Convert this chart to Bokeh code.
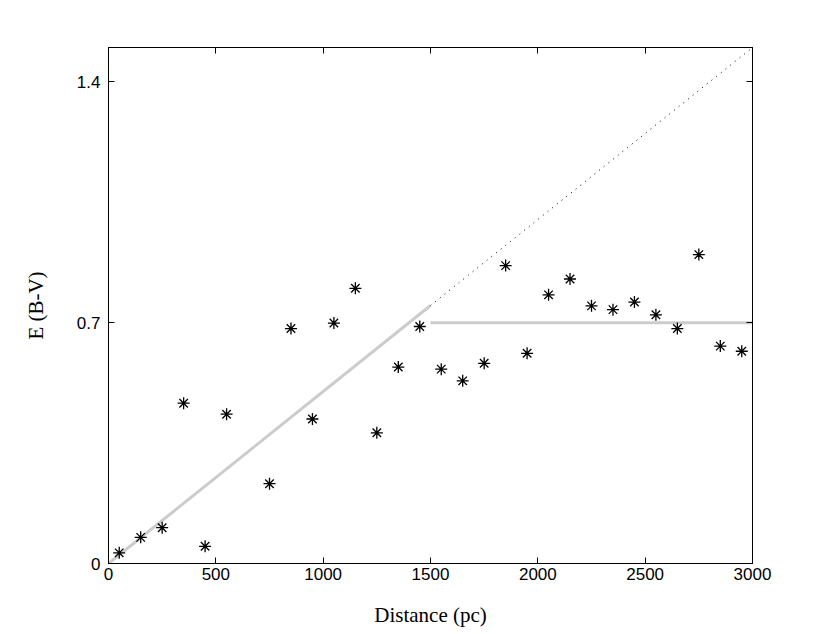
from bokeh.plotting import figure
from bokeh.models import Range1d, LinearAxis, FixedTicker
from bokeh.embed import file_html
from bokeh.resources import INLINE

distance = [50, 150, 250, 350, 450, 550, 650, 750, 850, 950, 1050, 1150, 1250, 1350, 1450,
            1550, 1650, 1750, 1850, 1950, 2050, 2150, 2250, 2350, 2450, 2550, 2650, 2750, 2850, 2950]
ebv = [0.031, 0.076, 0.104, 0.466, 0.050, 0.434, None, 0.232, 0.683, 0.420, 0.699, 0.800, 0.380, 0.571, 0.689,
       0.565, 0.531, 0.582, 0.866, 0.611, 0.781, 0.827, 0.749, 0.738, 0.760, 0.723, 0.683, 0.898, 0.632, 0.617]

fit_x = [0, 1500]
fit_y = [0.0, 0.75]
plateau_x = [1500, 3000]
plateau_y = [0.70, 0.70]
extrap_x = [1500, 3000]
extrap_y = [0.75, 1.5]

x_ticks = [0, 500, 1000, 1500, 2000, 2500, 3000]
y_ticks = [0, 0.7, 1.4]

pts = [(d, e) for d, e in zip(distance, ebv) if e is not None]
px = [a for a, b in pts]
py = [b for a, b in pts]

p = figure(width=814, height=634, output_backend="svg", toolbar_location=None,
           x_range=Range1d(0, 3000), y_range=Range1d(0, 1.5),
           min_border_left=108, min_border_right=62, min_border_top=47, min_border_bottom=71)

p.grid.visible = False
p.outline_line_color = "black"
p.outline_line_width = 1
p.background_fill_color = "white"
p.border_fill_color = "white"

p.line(fit_x, fit_y, line_color="#cccccc", line_width=3)
p.line(plateau_x, plateau_y, line_color="#cccccc", line_width=3)
p.line(extrap_x, extrap_y, line_color="black", line_width=1, line_dash="1 5")
p.scatter(px, py, marker="asterisk", size=12, line_color="black", line_width=1.3)

tick_font = "Liberation Sans"
label_font = "Liberation Serif"

for ax in p.xaxis:
    ax.ticker = FixedTicker(ticks=x_ticks)
    ax.axis_label = "Distance (pc)"
for ax in p.yaxis:
    ax.ticker = FixedTicker(ticks=y_ticks)
    ax.axis_label = "E (B-V)"

for ax in list(p.xaxis) + list(p.yaxis):
    ax.major_tick_in = 6
    ax.major_tick_out = 0
    ax.minor_tick_in = 0
    ax.minor_tick_out = 0
    ax.axis_line_color = "black"
    ax.major_tick_line_color = "black"
    ax.major_label_text_font = tick_font
    ax.major_label_text_font_size = "17px"
    ax.major_label_text_color = "black"
    ax.axis_label_text_font = label_font
    ax.axis_label_text_font_size = "21px"
    ax.axis_label_text_font_style = "normal"
    ax.axis_label_text_color = "black"

p.xaxis.major_label_standoff = 4
p.xaxis.axis_label_standoff = 20
p.yaxis.major_label_standoff = 8
p.yaxis.axis_label_standoff = 26

top = LinearAxis(ticker=FixedTicker(ticks=x_ticks), major_tick_in=6, major_tick_out=0,
                 minor_tick_in=0, minor_tick_out=0,
                 major_label_overrides={t: "" for t in x_ticks}, major_label_text_font_size="1px")
right = LinearAxis(ticker=FixedTicker(ticks=y_ticks), major_tick_in=6, major_tick_out=0,
                   minor_tick_in=0, minor_tick_out=0,
                   major_label_overrides={t: "" for t in y_ticks}, major_label_text_font_size="1px")
p.add_layout(top, "above")
p.add_layout(right, "right")

open("out.html", "w").write(file_html(p, INLINE))
